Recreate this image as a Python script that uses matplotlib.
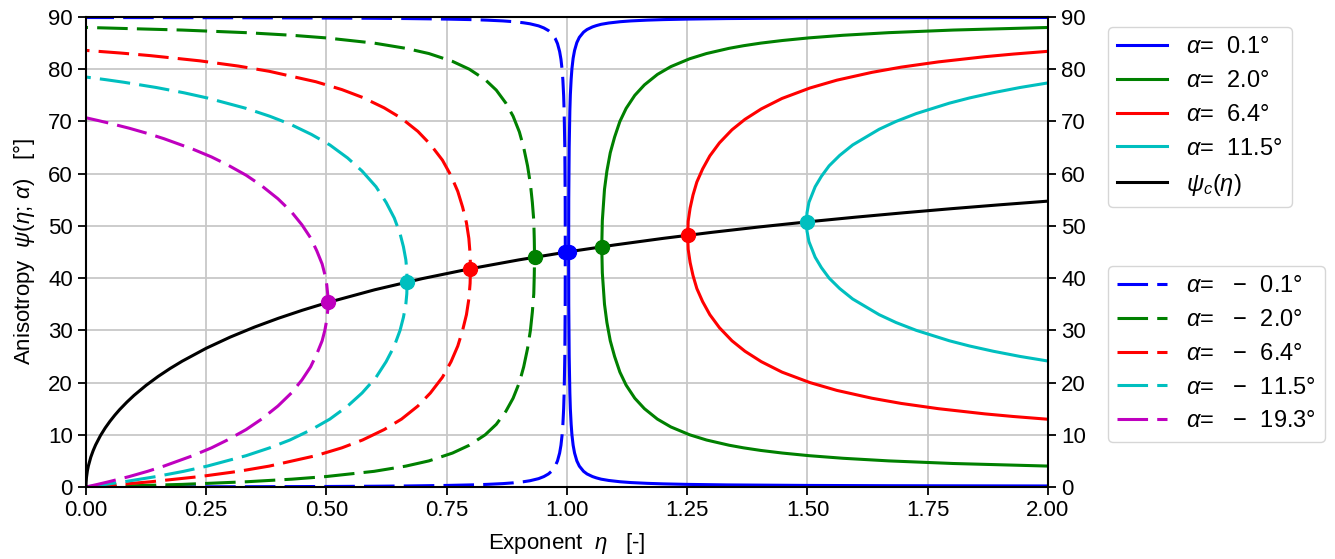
import matplotlib
matplotlib.use("Agg")
import matplotlib.pyplot as plt

plt.rcParams['font.family'] = ['Liberation Sans', 'DejaVu Sans']
plt.rcParams['mathtext.fontset'] = 'custom'
plt.rcParams['mathtext.rm'] = 'Liberation Sans'
plt.rcParams['mathtext.it'] = 'Liberation Sans:italic'
plt.rcParams['font.size'] = 16

# ---- values (psi in degrees, eta dimensionless) ----
# critical curve psi_c(eta)
eta_c = [0, 0.0002, 0.001, 0.003, 0.005, 0.01, 0.015, 0.02, 0.03, 0.04, 0.05, 0.06, 0.07, 0.085,
         0.1, 0.125, 0.15, 0.175, 0.2, 0.25, 0.3, 0.35, 0.4, 0.45, 0.5, 0.6, 0.7, 0.8, 0.9, 1.0,
         1.1, 1.2, 1.3, 1.4, 1.5, 1.6, 1.7, 1.8, 1.9, 2.0]
psi_c = [0, 0.81, 1.81, 3.14, 4.04, 5.71, 6.98, 8.05, 9.83, 11.31, 12.60, 13.76, 14.82, 16.25,
         17.55, 19.47, 21.17, 22.70, 24.09, 26.57, 28.71, 30.61, 32.31, 33.85, 35.26, 37.76, 39.92,
         41.81, 43.49, 45.0, 46.36, 47.61, 48.75, 49.80, 50.77, 51.67, 52.51, 53.30, 54.04, 54.74]

# alpha > 0 (solid lines)
alpha_pos = [0.1, 2.0, 6.4, 11.5]
psi_p01 = [0.2, 0.25, 0.3, 0.4, 0.5, 0.6, 0.7, 0.85, 1, 1.25, 1.5, 1.75, 2, 2.5, 3, 4, 5, 6.5, 8,
           10, 12, 15, 18, 25, 35, 45.05, 55.1, 65.1, 72.1, 75.1, 78.1, 80.1, 82.1, 83.6, 85.1,
           86.1, 87.1, 87.6, 88.1, 88.35, 88.6, 88.85, 89.1, 89.25, 89.4, 89.5, 89.6, 89.7, 89.8,
           89.85, 89.9]
eta_p01 = [2.000, 1.667, 1.500, 1.333, 1.250, 1.200, 1.167, 1.133, 1.111, 1.087, 1.071, 1.061,
           1.053, 1.0417, 1.0345, 1.0257, 1.0205, 1.0158, 1.0128, 1.0103, 1.0087, 1.0070, 1.0060,
           1.0046, 1.0037, 1.0035, 1.0037, 1.0046, 1.0060, 1.0070, 1.0087, 1.0103, 1.0128, 1.0158,
           1.0205, 1.0257, 1.0345, 1.0417, 1.053, 1.061, 1.071, 1.087, 1.111, 1.133, 1.167, 1.200,
           1.250, 1.333, 1.500, 1.667, 2.000]
psi_p2 = [4, 4.5, 5, 5.5, 6, 6.5, 7, 7.5, 8, 9, 10, 11.5, 13, 15, 17, 19.5, 22, 25, 28, 31.5, 35,
          41, 46, 51, 57, 60.5, 64, 67, 70, 72.5, 75, 77, 79, 80.5, 82, 83, 84, 84.5, 85, 85.5,
          86, 86.5, 87, 87.5, 88]
eta_p2 = [2.003, 1.803, 1.669, 1.574, 1.503, 1.448, 1.403, 1.367, 1.337, 1.290, 1.255, 1.216,
          1.188, 1.161, 1.141, 1.123, 1.110, 1.099, 1.090, 1.083, 1.078, 1.0735, 1.0723, 1.0735,
          1.078, 1.083, 1.090, 1.099, 1.110, 1.123, 1.141, 1.161, 1.188, 1.216, 1.255, 1.290,
          1.337, 1.367, 1.403, 1.448, 1.503, 1.574, 1.669, 1.803, 2.003]
psi_p64 = [12.9, 13.5, 14, 15, 16, 17, 18.5, 20, 22, 24, 26, 28, 30.5, 33, 35.5, 38, 40.5, 43,
           45.5, 48.2, 50.9, 53.4, 55.9, 58.4, 60.9, 63.4, 65.9, 68.4, 70.4, 72.4, 74.4, 76.4,
           77.9, 79.4, 80.4, 81.4, 82.4, 82.9, 83.5]
eta_p64 = [2.010, 1.928, 1.869, 1.772, 1.695, 1.634, 1.561, 1.505, 1.447, 1.404, 1.370, 1.343,
           1.317, 1.297, 1.282, 1.270, 1.262, 1.256, 1.252, 1.251, 1.252, 1.256, 1.262, 1.270,
           1.282, 1.297, 1.317, 1.343, 1.370, 1.404, 1.447, 1.505, 1.561, 1.634, 1.695, 1.772,
           1.869, 1.928, 2.010]
psi_p115 = [24, 25, 26, 27, 28, 30, 31.5, 33, 36, 38, 40, 42, 44, 47, 49, 50.75, 52.5, 54.5,
            57.5, 59.5, 61.5, 63.5, 65.5, 68.5, 70, 71.5, 73.5, 74.5, 75.5, 76.5, 77.5]
eta_p115 = [2.008, 1.942, 1.886, 1.837, 1.795, 1.726, 1.684, 1.649, 1.594, 1.567, 1.545, 1.529,
            1.516, 1.503, 1.499, 1.498, 1.499, 1.503, 1.516, 1.529, 1.545, 1.567, 1.594, 1.649,
            1.684, 1.726, 1.795, 1.837, 1.886, 1.942, 2.008]

# alpha < 0 (dashed lines)
alpha_neg = [-0.1, -2.0, -6.4, -11.5, -19.3]
psi_n01 = [0, 0.05, 0.1, 0.15, 0.2, 0.3, 0.4, 0.5, 0.65, 0.8, 1, 1.2, 1.6, 2, 2.5, 3, 4, 5, 6.5,
           8, 10, 12, 15, 18, 25, 35, 44.95, 54.9, 64.9, 71.9, 74.9, 77.9, 79.9, 81.9, 83.4, 84.9,
           85.9, 86.9, 87.4, 87.9, 88.3, 88.7, 88.9, 89.1, 89.25, 89.4, 89.5, 89.6, 89.7, 89.75,
           89.8, 89.85, 89.9]
eta_n01 = [0, 0.333, 0.5, 0.6, 0.667, 0.75, 0.8, 0.833, 0.867, 0.889, 0.909, 0.923, 0.941, 0.952,
           0.9615, 0.9677, 0.9755, 0.9803, 0.9847, 0.9875, 0.9899, 0.9915, 0.9931, 0.9941, 0.9955,
           0.9963, 0.9965, 0.9963, 0.9955, 0.9941, 0.9931, 0.9915, 0.9899, 0.9875, 0.9847, 0.9803,
           0.9755, 0.9677, 0.9615, 0.952, 0.941, 0.923, 0.909, 0.889, 0.867, 0.833, 0.8, 0.75,
           0.667, 0.6, 0.5, 0.333, 0]
psi_n2 = [0, 0.5, 1, 1.5, 2, 3, 4, 5, 6.5, 8, 10, 12, 14.5, 17, 20, 23, 26.5, 30, 33.5, 37, 40.5,
          44, 47.5, 51, 54.5, 58, 61.5, 65, 68, 71, 73.5, 76, 78, 80, 81.5, 83, 84, 85, 86, 86.5,
          87, 87.5, 88]
eta_n2 = [0, 0.200, 0.333, 0.428, 0.499, 0.599, 0.665, 0.713, 0.762, 0.797, 0.830, 0.853, 0.873,
          0.888, 0.901, 0.910, 0.918, 0.924, 0.928, 0.931, 0.932, 0.9326, 0.932, 0.931, 0.928,
          0.924, 0.918, 0.910, 0.901, 0.888, 0.873, 0.853, 0.830, 0.797, 0.762, 0.713, 0.665,
          0.599, 0.499, 0.428, 0.333, 0.200, 0]
psi_n64 = [0, 0.5, 1, 2, 3, 4, 6, 7.5, 9, 11, 13, 15.5, 18, 21, 24, 27, 30, 33, 36, 39, 41.8,
           44.6, 47.6, 50.6, 53.6, 56.6, 59.6, 62.6, 65.6, 68.1, 70.6, 72.6, 74.6, 76.1, 77.6,
           79.6, 80.6, 81.6, 82.6, 83.1, 83.6]
eta_n64 = [0, 0.072, 0.134, 0.237, 0.317, 0.381, 0.478, 0.532, 0.575, 0.620, 0.656, 0.690, 0.716,
           0.741, 0.759, 0.773, 0.783, 0.791, 0.796, 0.7986, 0.7994, 0.7986, 0.796, 0.791, 0.783,
           0.773, 0.759, 0.741, 0.716, 0.690, 0.656, 0.620, 0.575, 0.532, 0.478, 0.381, 0.317,
           0.237, 0.134, 0.072, 0]
psi_n115 = [0, 0.5, 1, 2, 3, 4, 6, 7.5, 9, 11, 13, 15.5, 18, 21, 24, 27, 30, 32.5, 35, 37, 39.25,
            41.5, 43.5, 46, 48.5, 51.5, 54.5, 57.5, 60.5, 63, 65.5, 67.5, 69.5, 71, 72.5, 74.5,
            75.5, 76.5, 77.5, 78, 78.5]
eta_n115 = [0, 0.041, 0.079, 0.146, 0.203, 0.252, 0.333, 0.382, 0.424, 0.469, 0.507, 0.544, 0.574,
            0.603, 0.624, 0.641, 0.653, 0.660, 0.665, 0.667, 0.6676, 0.667, 0.665, 0.660, 0.653,
            0.641, 0.624, 0.603, 0.574, 0.544, 0.507, 0.469, 0.424, 0.382, 0.333, 0.252, 0.203,
            0.146, 0.079, 0.041, 0]
psi_n193 = [0, 0.5, 1, 2, 3, 4, 6, 7.5, 9, 11, 13, 15.5, 18, 20.5, 23, 25.5, 28, 30, 32, 34, 35.35,
            36.7, 38.7, 40.7, 42.7, 45.2, 47.7, 50.2, 52.7, 55.2, 57.7, 59.7, 61.7, 63.2, 64.7,
            66.7, 67.7, 68.7, 69.7, 70.2, 70.7]
eta_n193 = [0, 0.024, 0.047, 0.090, 0.128, 0.162, 0.222, 0.261, 0.294, 0.333, 0.365, 0.399, 0.427,
            0.449, 0.467, 0.480, 0.491, 0.4966, 0.5006, 0.5028, 0.5032, 0.5028, 0.5006, 0.4966,
            0.491, 0.480, 0.467, 0.449, 0.427, 0.399, 0.365, 0.333, 0.294, 0.261, 0.222, 0.162,
            0.128, 0.090, 0.047, 0.024, 0]

# critical points (vertical tangents) sitting on psi_c
crit_eta = [1.0035, 1.0723, 1.251, 1.498, 0.9965, 0.9326, 0.7994, 0.6676, 0.5032]
crit_psi = [45.05, 46.0, 48.2, 50.75, 44.95, 44.0, 41.8, 39.25, 35.35]
crit_col = ['b', 'g', 'r', 'c', 'b', 'g', 'r', 'c', 'm']

pos_curves = [(eta_p01, psi_p01), (eta_p2, psi_p2), (eta_p64, psi_p64), (eta_p115, psi_p115)]
neg_curves = [(eta_n01, psi_n01), (eta_n2, psi_n2), (eta_n64, psi_n64), (eta_n115, psi_n115),
              (eta_n193, psi_n193)]
colors = ['b', 'g', 'r', 'c', 'm']


def alpha_label(a):
    if a < 0:
        return r'$\alpha$=   −  %.1f°' % abs(a)
    return r'$\alpha$=  %.1f°' % a


fig = plt.figure(figsize=(13.35, 5.59), dpi=100)
ax = fig.add_axes([0.0644, 0.1288, 0.7206, 0.8408])
lw = 2.2

h_pos = []
for (e, p), a, c in zip(pos_curves, alpha_pos, colors):
    l, = ax.plot(e, p, color=c, lw=lw, label=alpha_label(a))
    h_pos.append(l)
h_neg = []
for (e, p), a, c in zip(neg_curves, alpha_neg, colors):
    l, = ax.plot(e, p, color=c, lw=lw, dashes=(10, 3), label=alpha_label(a))
    h_neg.append(l)
lc, = ax.plot(eta_c, psi_c, color='k', lw=lw, label=r'$\psi_c(\eta)$')
h_pos.append(lc)

for e, p, c in zip(crit_eta, crit_psi, crit_col):
    ax.plot(e, p, 'o', color=c, ms=10, zorder=5)

ax.set_xlim(0, 2)
ax.set_ylim(0, 90)
ax.set_xticks([0, 0.25, 0.5, 0.75, 1.0, 1.25, 1.5, 1.75, 2.0])
ax.set_xticklabels(['0.00', '0.25', '0.50', '0.75', '1.00', '1.25', '1.50', '1.75', '2.00'])
ax.set_yticks(range(0, 91, 10))
ax.grid(True, color='#c8c8c8', lw=1.3)
ax.set_axisbelow(True)
ax.tick_params(labelsize=16, right=True, labelright=True, width=1.3, length=6)
for s in ax.spines.values():
    s.set_linewidth(1.5)
ax.set_xlabel(r'Exponent  $\eta$   [-]', fontsize=16, labelpad=7)
ax.set_ylabel(r'Anisotropy  $\psi(\eta;\,\alpha)$   [°]', fontsize=16, labelpad=8)

leg1 = fig.legend(handles=h_pos, loc='upper left', bbox_to_anchor=(0.821, 0.973), fontsize=17,
                  handlelength=2.1, labelspacing=0.5)
leg2 = fig.legend(handles=h_neg, loc='upper left', bbox_to_anchor=(0.821, 0.5456), fontsize=17,
                  handlelength=2.1, labelspacing=0.5)

plt.savefig('out.png', dpi=100)
